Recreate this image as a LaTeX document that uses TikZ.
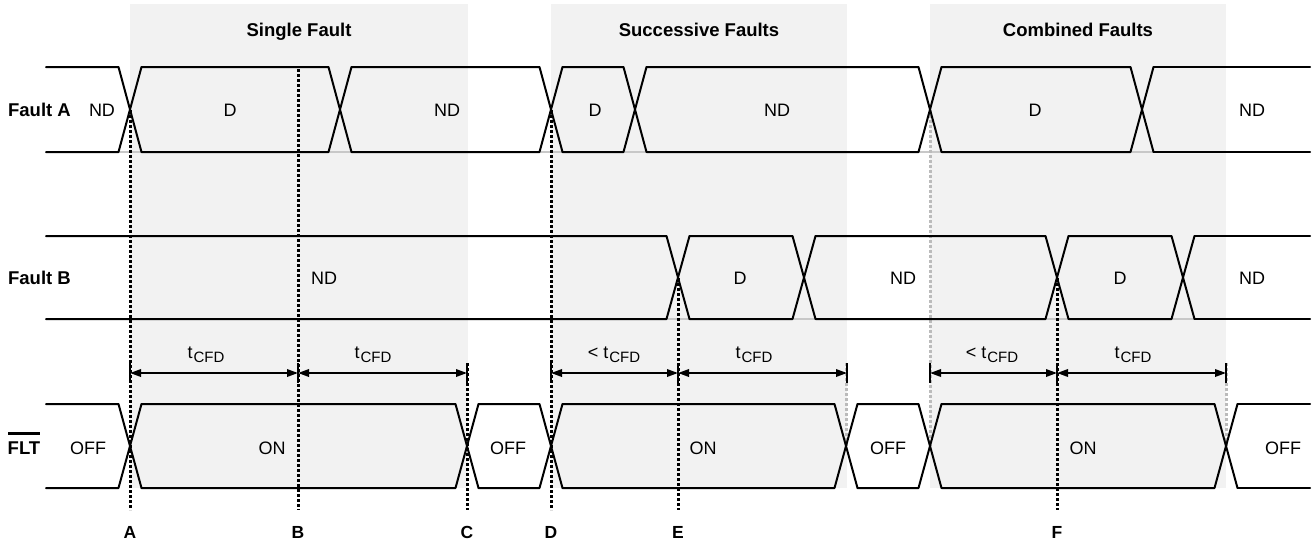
\documentclass[tikz,border=0pt]{standalone}
\usepackage{fontspec}
\setmainfont{Liberation Sans}
\usetikzlibrary{arrows.meta}
\definecolor{boxgray}{HTML}{F2F2F2}
\definecolor{guidegray}{HTML}{BBBBBB}
\definecolor{basegray}{HTML}{C8C8C8}
\tikzset{
  wave/.style={line width=2pt, line cap=round, line join=round},
  baseg/.style={line width=2pt, basegray},
  guide/.style={line width=3pt, dash pattern=on 3pt off 2pt},
  guideg/.style={guide, guidegray},
  dimarrow/.style={line width=1.8pt, {Triangle[length=11pt,width=7.5pt]}-{Triangle[length=11pt,width=7.5pt]}},
  dimtick/.style={line width=1.8pt},
  overbar/.style={line width=2.2pt},
  sig/.style={anchor=base, inner sep=0pt, font=\fontsize{18}{20}\selectfont},
  rowlab/.style={anchor=base, inner sep=0pt, font=\fontsize{18.5}{20}\selectfont\bfseries},
  boxtitle/.style={rowlab},
  letterlab/.style={anchor=base, inner sep=0pt, font=\fontsize{17.5}{20}\selectfont\bfseries},
  tlab/.style={anchor=base, inner sep=0pt, font=\fontsize{18}{20}\selectfont},
  greybox/.style={fill=boxgray, draw=none},
}
\newcommand\busrow[4]{%
  \foreach \c [remember=\c as \p (initially 34.5)] in {#3} {
    \draw[wave] (\p+11.5,#1) -- (\c-11.5,#1) -- (\c+11.5,#2);
    \draw[wave] (\p+11.5,#2) -- (\c-11.5,#2) -- (\c+11.5,#1);
  }
  \draw[wave] (#4+11.5,#1) -- (1310,#1);
  \draw[wave] (#4+11.5,#2) -- (1310,#2);
}
\newcommand\tcfd{t\kern1pt\raisebox{-4pt}{\fontsize{15}{16}\selectfont CFD}}
\begin{document}
\begin{tikzpicture}[x=1pt,y=-1pt]
\useasboundingbox (0,0) rectangle (1312,542);
% background boxes
\fill[greybox] (130,4) rectangle (468,488);
\fill[greybox] (551,4) rectangle (847,488);
\fill[greybox] (930,4) rectangle (1226,488);
% titles
\node[boxtitle] (t1) at (299,36) {Single Fault};
\node[boxtitle] (t2) at (699,36) {Successive Faults};
\node[boxtitle] (t3) at (1078,36) {Combined Faults};
% faint baselines
\coordinate (bA1) at (46,152); \coordinate (bA2) at (1310,152);
\coordinate (bB1) at (46,319); \coordinate (bB2) at (1310,319);
\draw[baseg] (bA1) -- (bA2);
\draw[baseg] (bB1) -- (bB2);
% grey guides
\coordinate (g1a) at (930,110); \coordinate (g1b) at (930,446);
\coordinate (g2a) at (846,363); \coordinate (g2b) at (846,446);
\coordinate (g3a) at (1226,363); \coordinate (g3b) at (1226,446);
\draw[guideg] (g1a) -- (g1b);
\draw[guideg] (g2a) -- (g2b);
\draw[guideg] (g3a) -- (g3b);
% waveforms
\busrow{67}{152}{130,340,551,635,930}{1142}
\draw[wave] (941.5,67) -- (1130.5,67) -- (1153.5,152);
\draw[wave] (941.5,152) -- (1130.5,152) -- (1153.5,67);
\busrow{236}{319}{678,804,1057}{1183}
\draw[wave] (1068.5,236) -- (1171.5,236) -- (1194.5,319);
\draw[wave] (1068.5,319) -- (1171.5,319) -- (1194.5,236);
\busrow{404}{488}{130,467,551,846,930}{1226}
\draw[wave] (941.5,404) -- (1214.5,404) -- (1237.5,488);
\draw[wave] (941.5,488) -- (1214.5,488) -- (1237.5,404);
% black guides
\coordinate (gAt) at (130,110); \coordinate (gAb) at (130,510);
\coordinate (gBt) at (298,69);  \coordinate (gBb) at (298,510);
\coordinate (gCt) at (467,363); \coordinate (gCb) at (467,510);
\coordinate (gDt) at (551,110); \coordinate (gDb) at (551,510);
\coordinate (gEt) at (678,278); \coordinate (gEb) at (678,510);
\coordinate (gFt) at (1057,278); \coordinate (gFb) at (1057,510);
\draw[guide] (gAt) -- (gAb);
\draw[guide] (gBt) -- (gBb);
\draw[guide] (gCt) -- (gCb);
\draw[guide] (gDt) -- (gDb);
\draw[guide] (gEt) -- (gEb);
\draw[guide] (gFt) -- (gFb);
% dimension lines
\foreach \n/\x in {d1/130,d2/298,d3/467,d4/551,d5/678,d6/847,d7/930,d8/1057,d9/1226} {
  \coordinate (\n) at (\x,373);
  \coordinate (\n u) at (\x,363);
  \coordinate (\n l) at (\x,383);
  \draw[dimtick] (\n u) -- (\n l);
}
\draw[dimarrow] (d1) -- (d2);
\draw[dimarrow] (d2) -- (d3);
\draw[dimarrow] (d4) -- (d5);
\draw[dimarrow] (d5) -- (d6);
\draw[dimarrow] (d7) -- (d8);
\draw[dimarrow] (d8) -- (d9);
\node[tlab] (tl1) at (206,358) {\tcfd};
\node[tlab] (tl2) at (373,358) {\tcfd};
\node[tlab] (tl3) at (614,358) {< \tcfd};
\node[tlab] (tl4) at (754,358) {\tcfd};
\node[tlab] (tl5) at (992,358) {< \tcfd};
\node[tlab] (tl6) at (1133,358) {\tcfd};
% row labels
\node[rowlab] (fa) at (39.5,116.5) {Fault A};
\node[rowlab] (fb) at (39.5,284.5) {Fault B};
\node[rowlab] (flt) at (24,454) {FLT};
\coordinate (ovl) at (8,433.5); \coordinate (ovr) at (40,433.5);
\draw[overbar] (ovl) -- (ovr);
% signal labels
\foreach \x/\s [count=\i] in {102/ND,230/D,447/ND,595/D,777/ND,1035/D,1252/ND}
  \node[sig] (sa\i) at (\x,116.5) {\s};
\foreach \x/\s [count=\i] in {324/ND,740/D,903/ND,1120/D,1252/ND}
  \node[sig] (sb\i) at (\x,284.5) {\s};
\foreach \x/\s [count=\i] in {88/OFF,272/ON,508/OFF,703/ON,888/OFF,1083/ON,1283/OFF}
  \node[sig] (sf\i) at (\x,454) {\s};
% bottom letters
\foreach \x/\s in {130/A,298/B,467/C,551/D,678/E,1057/F}
  \node[letterlab] (l\s) at (\x,538) {\s};
\end{tikzpicture}
\end{document}
